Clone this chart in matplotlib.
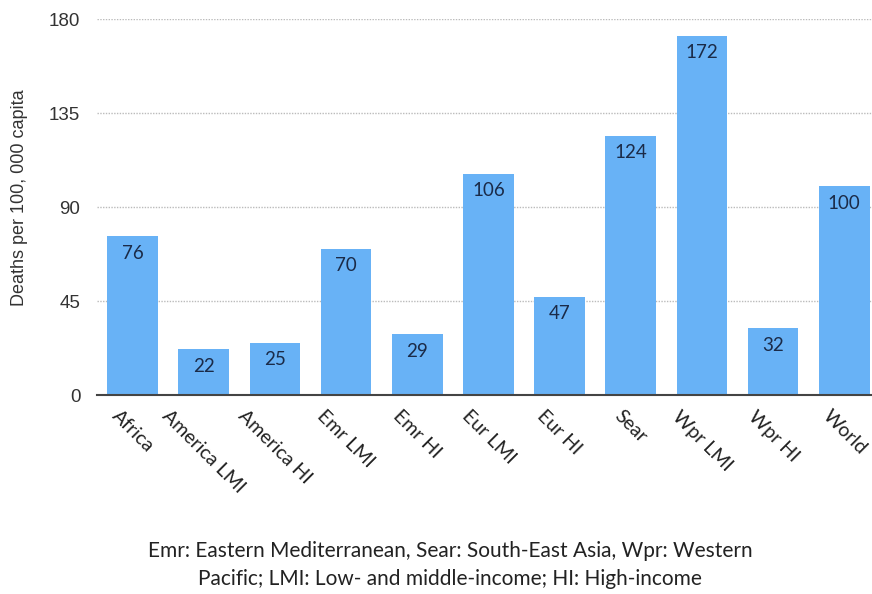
import matplotlib.pyplot as plt
import numpy as np

regions = ["Africa", "America LMI", "America HI", "Emr LMI", "Emr HI", "Eur LMI",
           "Eur HI", "Sear", "Wpr LMI", "Wpr HI", "World"]
deaths = [76, 22, 25, 70, 29, 106, 47, 124, 172, 32, 100]
yticks = [0, 45, 90, 135, 180]
caption = ("Emr: Eastern Mediterranean, Sear: South-East Asia, Wpr: Western\n"
           "Pacific; LMI: Low- and middle-income; HI: High-income")

fig = plt.figure(figsize=(8.72, 5.94), dpi=100)
ax = fig.add_axes([97 / 872, 199 / 594, 1 - 97 / 872, 376 / 594])

x = np.arange(len(regions))
bars = ax.bar(x, deaths, width=0.71, color="#68b2f6", zorder=2)
for b, v in zip(bars, deaths):
    ax.annotate(str(v), (b.get_x() + b.get_width() / 2, v), xytext=(0, -17),
                textcoords="offset pixels", ha="center", va="center",
                fontsize=13.5, color="#1b2b48", family="Lato")

ax.set_xlim(-0.5, 10.39)
ax.set_ylim(0, 180)
ax.set_yticks(yticks)
ax.set_yticklabels([str(t) for t in yticks], family="Liberation Sans", fontsize=13.5, color="#333333")
ax.yaxis.grid(True, linestyle=(0, (1, 1)), color="#bbbbbb", linewidth=1, zorder=0)
ax.tick_params(axis="y", length=0, pad=12)
ax.tick_params(axis="x", length=0, pad=9)
ax.set_xticks(x)
ax.set_xticklabels(regions, rotation=-45, ha="center", va="top",
                   family="Lato", fontsize=14, color="#222222")
for s in ["top", "right", "left"]:
    ax.spines[s].set_visible(False)
ax.spines["bottom"].set_color("#444444")
ax.spines["bottom"].set_linewidth(1.5)
ax.spines["bottom"].set_zorder(3)

fig.text(20 / 872, 1 - 198 / 594, "Deaths per 100, 000 capita", rotation=90,
         ha="center", va="center", fontsize=13, family="Liberation Sans", color="#333333")
fig.text(450 / 872, 1 - 565 / 594, caption, ha="center", va="center",
         fontsize=15, family="Lato", color="#222222", linespacing=1.45)

plt.savefig("out.png", dpi=100)
